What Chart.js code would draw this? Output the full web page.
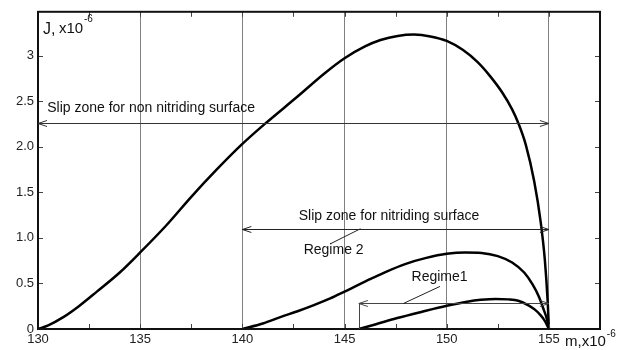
<!DOCTYPE html>
<html>
<head>
<meta charset="utf-8">
<script src="https://cdn.jsdelivr.net/npm/chart.js@4.4.1/dist/chart.umd.min.js"></script>
<style>
html,body{margin:0;padding:0;background:#fff;}
#wrap{width:624px;height:350px;position:relative;}
</style>
</head>
<body>
<div id="wrap"><canvas id="c" width="624" height="350"></canvas></div>
<script>
// Non-nitriding surface curve
const m1 = [130, 130.5, 131.24, 132, 132.88, 134, 135, 136.25, 137.5, 138.75, 140, 141.1, 142.7, 144, 145, 146, 146.76, 147.6, 148.4, 149.2, 150, 150.8, 151.5, 152.1, 152.7, 153.2, 153.5, 153.87, 154.28, 154.6, 154.8, 154.94, 155];
const J1 = [0, 0.04, 0.13, 0.25, 0.41, 0.62, 0.84, 1.13, 1.45, 1.75, 2.03, 2.25, 2.55, 2.80, 2.97, 3.10, 3.17, 3.215, 3.23, 3.21, 3.16, 3.06, 2.93, 2.78, 2.60, 2.41, 2.26, 2.02, 1.62, 1.17, 0.76, 0.30, 0];
// Nitriding surface, Regime 2
const m2 = [140, 141, 141.86, 142.7, 143.5, 144.3, 145, 146, 147, 148, 149, 150, 150.9, 151.7, 152.5, 153.2, 153.79, 154.2, 154.5, 154.75, 154.9, 155];
const J2 = [0, 0.06, 0.13, 0.195, 0.262, 0.335, 0.41, 0.52, 0.625, 0.715, 0.78, 0.825, 0.84, 0.835, 0.80, 0.73, 0.62, 0.49, 0.36, 0.21, 0.11, 0];
// Regime 1
const m3 = [145.7, 146.5, 147.58, 148.8, 150, 151, 151.67, 152.4, 153, 153.5, 154, 154.3, 154.6, 154.8, 155];
const J3 = [0, 0.05, 0.12, 0.19, 0.255, 0.30, 0.32, 0.33, 0.325, 0.31, 0.26, 0.215, 0.15, 0.09, 0];

const xLabelTicks = [130, 135, 140, 145, 150, 155];
const yTickLabels = ['0', '0.5', '1.0', '1.5', '2.0', '2.5', '3'];

const FONT = '"Liberation Sans", Arial, sans-serif';

function pts(xs, ys){ return xs.map((x,i)=>({x:x, y:ys[i]})); }

function arrowHead(ctx, x, y, dir){
  ctx.beginPath();
  ctx.moveTo(x - dir*9, y - 3);
  ctx.lineTo(x, y);
  ctx.lineTo(x - dir*9, y + 3);
  ctx.stroke();
}

const overlay = {
  id: 'overlay',
  afterDraw(chart){
    const ctx = chart.ctx, xs = chart.scales.x, ys = chart.scales.y, a = chart.chartArea;
    const X = v => xs.getPixelForValue(v), Y = v => ys.getPixelForValue(v);
    ctx.save();
    // inward ticks
    ctx.strokeStyle = '#444'; ctx.lineWidth = 1;
    xs.ticks.forEach(t => {
      const px = Math.round(X(t.value)) + 0.5;
      if (t.value <= 130 || t.value >= 157.5) return;
      ctx.beginPath(); ctx.moveTo(px, a.bottom); ctx.lineTo(px, a.bottom - 5); ctx.stroke();
      ctx.beginPath(); ctx.moveTo(px, a.top); ctx.lineTo(px, a.top + 5); ctx.stroke();
    });
    ys.ticks.forEach(t => {
      const py = Math.round(Y(t.value)) + 0.5;
      if (t.value <= 0) return;
      ctx.beginPath(); ctx.moveTo(a.left, py); ctx.lineTo(a.left + 5, py); ctx.stroke();
      ctx.beginPath(); ctx.moveTo(a.right, py); ctx.lineTo(a.right - 5, py); ctx.stroke();
    });
    // frame
    ctx.strokeStyle = '#111'; ctx.lineWidth = 2;
    ctx.strokeRect(a.left, a.top, a.right - a.left, a.bottom - a.top);

    // annotations: double arrows
    function dbl(x1, x2, yv, col){
      const px1 = X(x1), px2 = X(x2), py = Math.round(Y(yv)) + 0.5;
      ctx.strokeStyle = col; ctx.lineWidth = 1;
      ctx.beginPath(); ctx.moveTo(px1, py); ctx.lineTo(px2, py); ctx.stroke();
      arrowHead(ctx, px1, py, -1);
      arrowHead(ctx, px2, py, 1);
    }
    dbl(130, 155, 2.26, '#333');
    dbl(140, 155, 1.10, '#222');
    dbl(145.7, 155, 0.28, '#444');
    // regime 1 start boundary
    ctx.strokeStyle = '#444'; ctx.lineWidth = 1;
    ctx.beginPath(); ctx.moveTo(Math.round(X(145.7)) + 0.5, Y(0.28)); ctx.lineTo(Math.round(X(145.7)) + 0.5, Y(0)); ctx.stroke();
    // leader lines
    ctx.strokeStyle = '#222';
    ctx.beginPath(); ctx.moveTo(X(144.31), Y(0.935)); ctx.lineTo(X(145.78), Y(1.10)); ctx.stroke();
    ctx.beginPath(); ctx.moveTo(X(147.88), Y(0.28)); ctx.lineTo(X(149.67), Y(0.467)); ctx.stroke();

    // texts
    ctx.fillStyle = '#111';
    ctx.font = '14px ' + FONT;
    ctx.textAlign = 'left'; ctx.textBaseline = 'middle';
    ctx.fillText('Slip zone for non nitriding surface', X(130.45), Y(2.42));
    ctx.fillText('Slip zone for nitriding surface', X(142.76), Y(1.24));
    ctx.fillText('Regime 2', X(143.0), Y(0.86));
    ctx.fillText('Regime1', X(148.28), Y(0.57));

    // axis titles
    ctx.textBaseline = 'alphabetic';
    ctx.font = '16px ' + FONT;
    ctx.fillText('J,', 43, 34);
    ctx.font = '15px ' + FONT;
    ctx.fillText('x10', 59, 33);
    ctx.font = '10px ' + FONT;
    ctx.fillText('-6', 84, 22);

    ctx.font = '15px ' + FONT;
    ctx.fillText('m,x10', 565, 346);
    const w = ctx.measureText('m,x10').width;
    ctx.font = '10px ' + FONT;
    ctx.fillText('-6', 565 + w + 1, 337);
    ctx.restore();
  }
};

const lineStyle = {showLine: true, borderColor: '#000', borderWidth: 2.5, pointRadius: 0, cubicInterpolationMode: 'monotone', fill: false};

new Chart(document.getElementById('c'), {
  type: 'scatter',
  data: {
    datasets: [
      Object.assign({label: 'non nitriding', data: pts(m1, J1)}, lineStyle),
      Object.assign({label: 'Regime 2', data: pts(m2, J2)}, lineStyle),
      Object.assign({label: 'Regime1', data: pts(m3, J3)}, lineStyle)
    ]
  },
  options: {
    responsive: false,
    animation: false,
    devicePixelRatio: 1,
    layout: {padding: {left: 0, right: 24, top: 9, bottom: 0}},
    plugins: {legend: {display: false}, tooltip: {enabled: false}},
    scales: {
      x: {
        type: 'linear', min: 130, max: 157.5,
        afterFit(s){ s.height = 21; },
        border: {display: false},
        grid: {
          drawTicks: false,
          lineWidth: 1,
          color: c => (xLabelTicks.includes(c.tick.value) && c.tick.value > 130) ? '#808080' : 'rgba(0,0,0,0)'
        },
        ticks: {
          stepSize: 2.5, includeBounds: false, autoSkip: false, maxRotation: 0, padding: 3,
          color: '#222', font: {family: FONT, size: 13},
          callback: v => xLabelTicks.includes(v) ? String(v) : ''
        }
      },
      y: {
        type: 'linear', min: 0, max: 3.48,
        afterFit(s){ s.width = 38; },
        border: {display: false},
        grid: {display: false, drawTicks: false},
        ticks: {
          stepSize: 0.5, includeBounds: false, padding: 4,
          color: '#222', font: {family: FONT, size: 13},
          callback: v => { const i = Math.round(v / 0.5); return yTickLabels[i] !== undefined ? yTickLabels[i] : ''; }
        }
      }
    }
  },
  plugins: [overlay]
});
</script>
</body>
</html>
